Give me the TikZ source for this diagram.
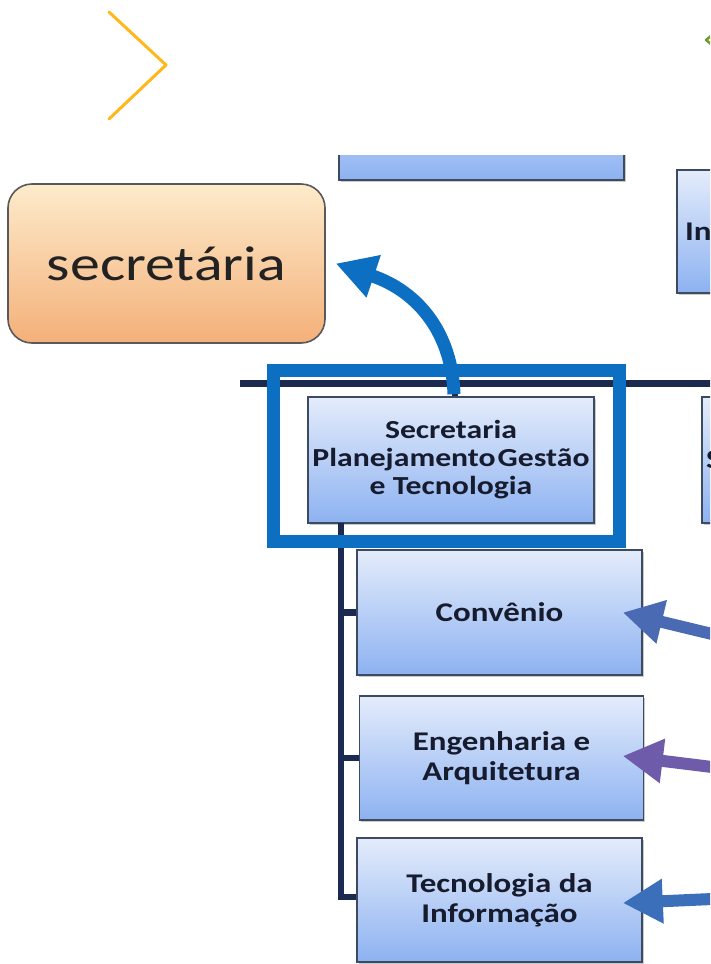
\documentclass[tikz,border=0pt]{standalone}
\usepackage{fontspec}
\setmainfont{Carlito}[FakeStretch=1.22]
\usetikzlibrary{arrows.meta,shadows}

\definecolor{boxtop}{HTML}{E4ECFB}
\definecolor{boxbot}{HTML}{8DB2F1}
\definecolor{boxedge}{HTML}{3D4B60}
\definecolor{boxtext}{HTML}{161B2E}
\definecolor{sectop}{HTML}{FDEBCB}
\definecolor{secbot}{HTML}{F4B079}
\definecolor{secedge}{HTML}{595959}
\definecolor{sectext}{HTML}{222222}
\definecolor{busnavy}{HTML}{1C2A52}
\definecolor{hlblue}{HTML}{0D6FC1}
\definecolor{arrA}{HTML}{4A6AB4}
\definecolor{arrB}{HTML}{6E5BAA}
\definecolor{arrC}{HTML}{3C6FBA}
\definecolor{chevyellow}{HTML}{FFB81C}
\definecolor{chevgreen}{HTML}{6E9C2E}

\tikzset{
  orgbox/.style={draw=boxedge, line width=1.6pt, top color=boxtop, bottom color=boxbot,
    minimum width=285pt, minimum height=125pt, inner sep=0pt, align=center,
    font=\bfseries\fontsize{27}{30}\selectfont, text=boxtext,
    drop shadow={shadow xshift=1.5pt, shadow yshift=-2pt, opacity=0.35, fill=black!60}},
  bus/.style={draw=busnavy, line width=7pt},
  branch/.style={draw=busnavy, line width=6.5pt, line join=miter},
  highlight/.style={draw=hlblue, line width=13pt},
  curvearrow/.style={draw=hlblue, line width=13pt,
    -{Triangle[length=40pt,width=42pt]}},
  sidearrow/.style={line width=12pt, -{Triangle[length=40pt,width=42pt]}},
  chevron/.style={line width=3pt, line cap=round, line join=round}
}

\begin{document}
\begin{tikzpicture}[x=1pt,y=-1pt]
\useasboundingbox (0,0) rectangle (710,964);
\begin{scope}
\clip (0,0) rectangle (710,964);

% header chevrons
\draw[chevron, chevyellow] (109,12) -- (166,65) -- (109,119);
\draw[chevron, chevgreen, line width=2.5pt] (712,35) -- (706,40) -- (712,45);

% org chart boxes cut by the top edge of the chart area
\begin{scope}
\clip (0,155) rectangle (710,964);
\node[orgbox] (topbox) at (481.5,117.5) {};
\end{scope}
\node[orgbox, minimum width=286pt, minimum height=123pt, text width=270pt, align=left] (infbox) at (820,231.5) {In};

% horizontal bus
\coordinate (busL) at (240,383);
\coordinate (busR) at (712,383);
\draw[bus] (busL) -- (busR);

% second-level boxes
\node[orgbox, minimum width=286pt, minimum height=126pt, font=\bfseries\fontsize{26}{28}\selectfont] (secbox) at (451,460) {Secretaria\\Planejamento\hspace{2pt}Gestão\\e Tecnologia};
\node[orgbox, minimum width=286pt, minimum height=126pt, text width=278pt, align=left] (sidebox) at (845,460) {S};

\coordinate (stub) at (455,383);
\draw[draw=busnavy, line width=6pt] (stub) -- (stub |- secbox.north);

% child boxes
\node[orgbox] (convbox) at (499.5,612.5) {Convênio};
\node[orgbox, minimum width=284pt, minimum height=124pt] (engbox) at (501.5,758) {Engenharia e\\Arquitetura};
\node[orgbox, minimum height=124pt] (tecbox) at (499.5,900) {Tecnologia da\\Informação};

% trunk and branches
\coordinate (trunk) at (341,523);
\draw[branch] (trunk) |- ([yshift=3pt]tecbox.west);
\draw[branch] (trunk |- convbox.west) -- (convbox.west);
\draw[branch] (trunk |- engbox.west) -- (engbox.west);

% highlight frame
\draw[highlight] (273.5,370.5) rectangle (619.5,541.5);

% callout box
\node[draw=secedge, line width=1.6pt, rounded corners=24pt, top color=sectop, bottom color=secbot,
  minimum width=317pt, minimum height=159pt, inner sep=0pt,
  font=\fontsize{49}{55}\selectfont, text=sectext] (secretaria) at (166.5,263.5) {secretária};

% curved arrow to the callout
\draw[curvearrow] ([xshift=3pt,yshift=2pt]secbox.north) .. controls (452,335) and (420,292) .. ([xshift=10pt]secretaria.east);

% incoming arrows on the right
\coordinate (inA) at (712,634);
\coordinate (inB) at (712,767);
\coordinate (inC) at (712,899);
\draw[sidearrow, draw=arrA] (inA) -- ([xshift=-20pt]convbox.east);
\draw[sidearrow, draw=arrB] (inB) -- ([xshift=-21.5pt,yshift=2pt]engbox.east);
\draw[sidearrow, draw=arrC] (inC) -- ([xshift=-20pt,yshift=-3pt]tecbox.east);
\end{scope}
\end{tikzpicture}
\end{document}
